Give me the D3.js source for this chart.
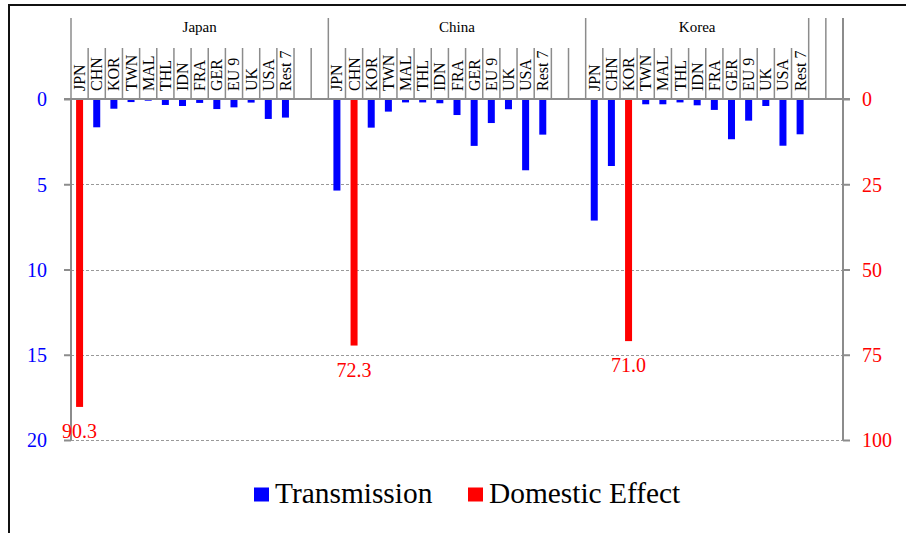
<!DOCTYPE html>
<html>
<head>
<meta charset="utf-8">
<script src="https://cdn.jsdelivr.net/npm/d3@7"></script>
<style>
  html, body { margin: 0; padding: 0; background: #fff; }
  svg { display: block; font-family: "Liberation Serif", "Times New Roman", serif; }
</style>
</head>
<body>
<svg id="chart" width="906" height="533"></svg>
<script>
// ---- data ----
const groups = ["Japan", "China", "Korea"];
const countries = ["JPN", "CHN", "KOR", "TWN", "MAL", "THL", "IDN", "FRA", "GER", "EU 9", "UK", "USA", "Rest 7"];
// transmission effects (left axis), null where the domestic effect is shown instead
const transmissionJapan = [null, 1.66, 0.57, 0.18, 0.10, 0.35, 0.41, 0.23, 0.59, 0.49, 0.21, 1.17, 1.09];
const transmissionChina = [5.37, null, 1.68, 0.74, 0.20, 0.20, 0.25, 0.94, 2.75, 1.41, 0.60, 4.18, 2.09];
const transmissionKorea = [7.13, 3.93, null, 0.31, 0.31, 0.20, 0.37, 0.64, 2.36, 1.27, 0.41, 2.74, 2.07];
// domestic effect (right axis), one per group, in the group's own country column
const domesticEffect = [90.3, 72.3, 71.0];
const domesticCountry = ["JPN", "CHN", "KOR"];
const leftTicks = [0, 5, 10, 15, 20];
const rightTicks = [0, 25, 50, 75, 100];
const legendLabels = ["Transmission", "Domestic Effect"];

(function () {
const transmission = [transmissionJapan, transmissionChina, transmissionKorea];

// ---- slots: 13 countries + 2 blank per group ----
const slots = [];
groups.forEach((g, gi) => {
  countries.forEach(c => slots.push({ key: g + "|" + c, group: g, gi, country: c }));
  slots.push({ key: g + "|blank1", group: g, gi, country: "" });
  slots.push({ key: g + "|blank2", group: g, gi, country: "" });
});

const svg = d3.select("#chart");
const pLeft = 71, pRight = 843, pTop = 99, pBottom = 440, headerTop = 18, catTop = 48;

const x = d3.scaleBand().domain(slots.map(d => d.key)).range([pLeft, pRight]).padding(0);
const yL = d3.scaleLinear().domain([0, 20]).range([pTop, pBottom]);
const yR = d3.scaleLinear().domain([0, 100]).range([pTop, pBottom]);
const bw = 7;
const gridColor = "#8c8c8c";

// frame
svg.append("rect").attr("x", 9).attr("y", 5).attr("width", 2000).attr("height", 2000)
  .attr("fill", "none").attr("stroke", "#111").attr("stroke-width", 2);

// gridlines
svg.append("g").selectAll("line").data(leftTicks.filter(t => t > 0)).join("line")
  .attr("x1", pLeft).attr("x2", pRight)
  .attr("y1", d => Math.round(yL(d)) + 0.5).attr("y2", d => Math.round(yL(d)) + 0.5)
  .attr("stroke", "#999").attr("stroke-width", 1).attr("stroke-dasharray", "3,2");

// header vertical lines
const spans = [
  { label: groups[0], s: 0, e: 15 },
  { label: groups[1], s: 15, e: 30 },
  { label: groups[2], s: 30, e: 43 },
  { label: "", s: 43, e: 44 },
  { label: "", s: 44, e: 45 }
];
const tall = new Set();
spans.forEach(sp => { tall.add(sp.s); tall.add(sp.e); });
const bounds = d3.range(0, slots.length + 1);
const bx = i => i < slots.length ? x(slots[i].key) : pRight;
svg.append("g").selectAll("line").data(bounds).join("line")
  .attr("x1", i => bx(i)).attr("x2", i => bx(i))
  .attr("y1", i => tall.has(i) ? headerTop : catTop).attr("y2", pTop)
  .attr("stroke", gridColor).attr("stroke-width", 1.5);

// group labels
svg.append("g").selectAll("text").data(spans.filter(s => s.label)).join("text")
  .attr("x", d => (bx(d.s) + bx(d.e)) / 2).attr("y", 32)
  .attr("text-anchor", "middle").attr("font-size", 15).attr("fill", "#000")
  .text(d => d.label);

// category labels (rotated)
svg.append("g").selectAll("text").data(slots.filter(d => d.country)).join("text")
  .attr("transform", d => `translate(${x(d.key) + x.bandwidth() / 2 + 5.5},${91}) rotate(-90)`)
  .attr("text-anchor", "start").attr("font-size", 16).attr("fill", "#000")
  .text(d => d.country);

// axes
const yAxisL = d3.axisLeft(yL).tickValues(leftTicks).tickSize(7).tickSizeOuter(0).tickFormat(d3.format("d"));
const gL = svg.append("g").attr("transform", `translate(${pLeft},0)`).call(yAxisL);
const yAxisR = d3.axisRight(yR).tickValues(rightTicks).tickSize(7).tickSizeOuter(0).tickFormat(d3.format("d"));
const gR = svg.append("g").attr("transform", `translate(${pRight},0)`).call(yAxisR);
[gL, gR].forEach(g => {
  g.select(".domain").remove();
  g.selectAll(".tick line").attr("stroke", gridColor).attr("stroke-width", 2);
  g.selectAll(".tick text").attr("font-family", "Liberation Serif, serif").attr("font-size", 20).attr("dy", "0.34em");
});
gL.selectAll(".tick text").attr("fill", "#0000ff").attr("x", -24);
gR.selectAll(".tick text").attr("fill", "#ff0000").attr("x", 19);

// axis lines
svg.append("line").attr("x1", pLeft).attr("x2", pLeft).attr("y1", pTop).attr("y2", pBottom)
  .attr("stroke", gridColor).attr("stroke-width", 2);
svg.append("line").attr("x1", pRight).attr("x2", pRight).attr("y1", headerTop).attr("y2", pBottom)
  .attr("stroke", gridColor).attr("stroke-width", 2);
svg.append("line").attr("x1", pLeft - 7).attr("x2", pRight + 7).attr("y1", pTop).attr("y2", pTop)
  .attr("stroke", gridColor).attr("stroke-width", 2);

// transmission bars
const tData = [];
groups.forEach((g, gi) => countries.forEach((c, ci) => {
  const v = transmission[gi][ci];
  if (v != null) tData.push({ key: g + "|" + c, v });
}));
svg.append("g").selectAll("rect").data(tData).join("rect")
  .attr("x", d => x(d.key) + x.bandwidth() / 2 - bw / 2).attr("width", bw)
  .attr("y", yL(0) + 1).attr("height", d => yL(d.v) - yL(0) - 1)
  .attr("fill", "#0000ff");

// domestic bars
const dData = groups.map((g, gi) => ({ key: g + "|" + domesticCountry[gi], v: domesticEffect[gi] }));
svg.append("g").selectAll("rect").data(dData).join("rect")
  .attr("x", d => x(d.key) + x.bandwidth() / 2 - bw / 2).attr("width", bw)
  .attr("y", yR(0) + 1).attr("height", d => yR(d.v) - yR(0) - 1)
  .attr("fill", "#ff0000");
svg.append("g").selectAll("text").data(dData).join("text")
  .attr("x", d => x(d.key) + x.bandwidth() / 2).attr("y", d => yR(d.v) + 31)
  .attr("text-anchor", "middle").attr("font-size", 20).attr("fill", "#ff0000")
  .text(d => d.v.toFixed(1));

// legend
const legend = svg.append("g");
const legendItems = [
  { label: legendLabels[0], color: "#0000ff", x: 254 },
  { label: legendLabels[1], color: "#ff0000", x: 468 }
];
legendItems.forEach(it => {
  legend.append("rect").attr("x", it.x).attr("y", 487.5).attr("width", 15).attr("height", 14).attr("fill", it.color);
  legend.append("text").attr("x", it.x + 21).attr("y", 502.5).attr("font-size", 29.4).attr("fill", "#000").text(it.label);
});
})();
</script>
</body>
</html>
